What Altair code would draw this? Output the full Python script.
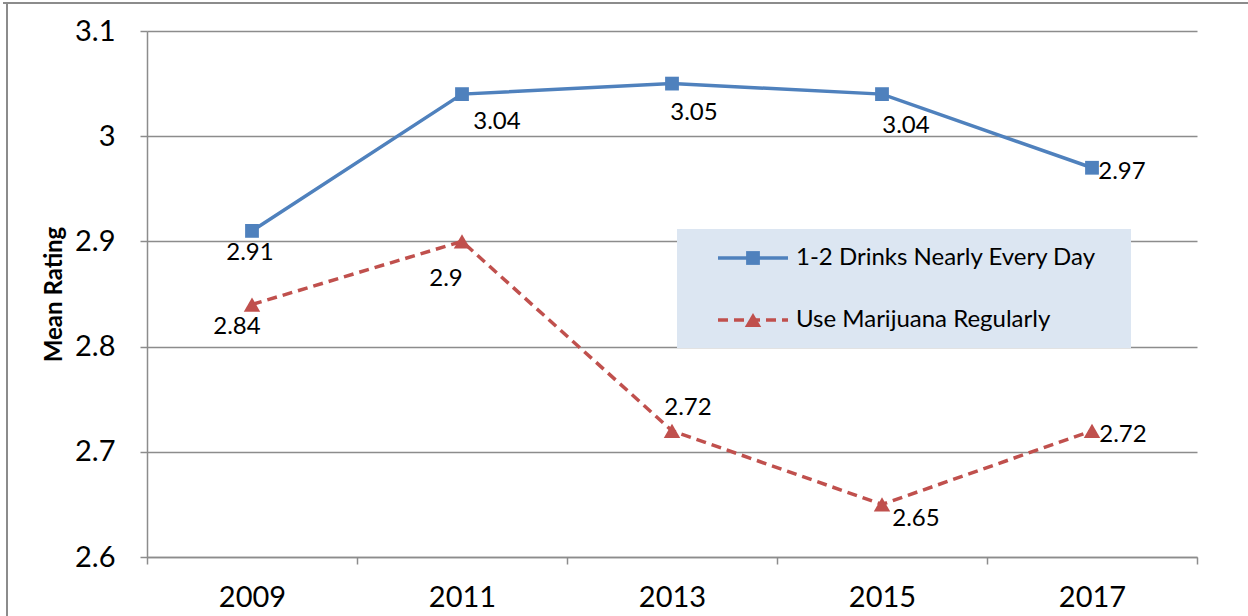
import altair as alt
import pandas as pd

# Survey years and the two series of mean ratings
years = ["2009", "2011", "2013", "2015", "2017"]
drinks = [2.91, 3.04, 3.05, 3.04, 2.97]
marijuana = [2.84, 2.90, 2.72, 2.65, 2.72]
series_names = ["1-2 Drinks Nearly Every Day", "Use Marijuana Regularly"]
y_ticks = [2.6, 2.7, 2.8, 2.9, 3.0, 3.1]

# Label nudges (dx, dy) in pixels for each point's value label
drinks_nudge = [(-2, 22), (35, 28), (22, 29), (24, 32), (30, 4)]
marijuana_nudge = [(-15, 22), (-16, 38), (16, -23), (34, 15), (31, 4)]

BLUE = "#4F81BD"
RED = "#C0504D"
GRID = "#8C8C8C"
FONT = "Lato"

W, H = 1050, 526

df = pd.DataFrame({
    "year": years * 2,
    "value": drinks + marijuana,
    "series": [series_names[0]] * 5 + [series_names[1]] * 5,
})

x_enc = alt.X(
    "year:O",
    bandPosition=0.5,
    scale=alt.Scale(type="band", paddingInner=0, paddingOuter=0),
    axis=alt.Axis(
        title=None, labelAngle=0, tickBand="extent", grid=False,
        labelFontSize=29, labelFont=FONT, labelColor="#000",
        labelPadding=19, tickSize=7, tickColor=GRID, tickWidth=1.5,
        domainColor=GRID, domainWidth=1.5,
    ),
)
y_enc = alt.Y(
    "value:Q",
    scale=alt.Scale(domain=[2.6, 3.1], nice=False, zero=False),
    axis=alt.Axis(
        title="Mean Rating", values=y_ticks, format="~g",
        labelFontSize=29, labelFont=FONT, labelColor="#000",
        labelPadding=25, tickSize=7, tickColor=GRID, tickWidth=1.5,
        domainColor=GRID, domainWidth=1.5,
        gridColor=GRID, gridWidth=1.5,
        titleFont=FONT, titleFontSize=24, titleFontWeight="bold",
        titleColor="#000", titlePadding=8,
    ),
)

base = alt.Chart(df)

blue_line = base.transform_filter(alt.datum.series == series_names[0]).mark_line(
    color=BLUE, strokeWidth=3.5
).encode(x=x_enc, y=y_enc)
blue_pts = base.transform_filter(alt.datum.series == series_names[0]).mark_point(
    shape="square", filled=True, color=BLUE, size=190, opacity=1
).encode(x=x_enc, y=y_enc)

red_line = base.transform_filter(alt.datum.series == series_names[1]).mark_line(
    color=RED, strokeWidth=3.5, strokeDash=[10, 6]
).encode(x=x_enc, y=y_enc)
red_pts = base.transform_filter(alt.datum.series == series_names[1]).mark_point(
    shape="triangle-up", filled=True, color=RED, size=270, opacity=1
).encode(x=x_enc, y=y_enc)

layers = [blue_line, red_line, blue_pts, red_pts]

# Value labels, one per point
for name, vals, nudges in [
    (series_names[0], drinks, drinks_nudge),
    (series_names[1], marijuana, marijuana_nudge),
]:
    for yr, v, (dx, dy) in zip(years, vals, nudges):
        lab = pd.DataFrame({"year": [yr], "value": [v], "label": [format(v, "g")]})
        layers.append(
            alt.Chart(lab).mark_text(
                font=FONT, fontSize=24, color="#000", dx=dx, dy=dy,
                align="center", baseline="middle",
            ).encode(x=x_enc, y=y_enc, text="label:N")
        )

# Legend panel
one = pd.DataFrame({"k": [0]})
legend_box = alt.Chart(one).mark_rect(color="#DCE6F2").encode(
    x=alt.value(530), x2=alt.value(984), y=alt.value(198), y2=alt.value(317)
)
layers.append(legend_box)
for i, (name, color, shape, dash, size) in enumerate([
    (series_names[0], BLUE, "square", [1, 0], 190),
    (series_names[1], RED, "triangle-up", [10, 6], 270),
]):
    ry = 227 + i * 62
    layers.append(
        alt.Chart(one).mark_rule(color=color, strokeWidth=3.5, strokeDash=dash).encode(
            x=alt.value(571), x2=alt.value(641), y=alt.value(ry)
        )
    )
    layers.append(
        alt.Chart(one).mark_point(shape=shape, filled=True, color=color, size=size, opacity=1).encode(
            x=alt.value(606), y=alt.value(ry)
        )
    )
    layers.append(
        alt.Chart(pd.DataFrame({"t": [name]})).mark_text(
            font=FONT, fontSize=24, color="#000", align="left", baseline="middle"
        ).encode(x=alt.value(649), y=alt.value(ry), text="t:N")
    )

# Outer chart frame (top and left edges)
frame_top = alt.Chart(one).mark_rule(color="#8C8C8C", strokeWidth=2).encode(
    x=alt.value(-144), x2=alt.value(1101), y=alt.value(-28)
)
frame_left = alt.Chart(one).mark_rule(color="#8C8C8C", strokeWidth=2).encode(
    x=alt.value(-140), y=alt.value(-28), y2=alt.value(600)
)
layers += [frame_top, frame_left]

chart = alt.layer(*layers).properties(
    width=W, height=H,
    padding={"left": 147, "top": 31, "right": 51, "bottom": 59},
    autosize=alt.AutoSizeParams(type="none"),
    background="white",
).configure_view(stroke=None)

chart.save("out.html", embed_options={"renderer": "svg", "actions": False})
